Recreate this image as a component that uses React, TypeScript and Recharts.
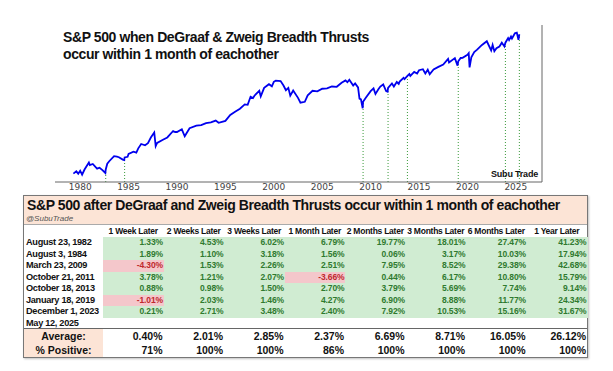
import React from "react";
import { LineChart, Line, XAxis, YAxis, ReferenceLine } from "recharts";

// S&P 500 closes (approx), decimal year
const spxDates = [
  1979.3, 1979.6, 1979.8, 1980.0, 1980.2, 1980.45, 1980.9, 1981.0, 1981.3, 1981.6, 1981.75,
  1982.0, 1982.3, 1982.6, 1982.64, 1982.8, 1983.0, 1983.5, 1983.8, 1984.0, 1984.4, 1984.55,
  1984.59, 1984.9, 1985.0, 1985.5, 1985.8, 1986.0, 1986.3, 1986.7, 1987.0, 1987.3, 1987.65,
  1987.8, 1987.95, 1988.5, 1989.0, 1989.6, 1989.8, 1990.0, 1990.5, 1990.8, 1991.0, 1991.3,
  1992.0, 1992.5, 1993.0, 1993.5, 1994.0, 1994.3, 1995.0, 1995.5, 1996.0, 1996.5, 1997.0,
  1997.3, 1997.6, 1997.85, 1998.0, 1998.5, 1998.65, 1999.0, 1999.5, 1999.8, 2000.0, 2000.2,
  2000.7, 2001.0, 2001.25, 2001.5, 2001.7, 2002.0, 2002.5, 2002.75, 2003.2, 2003.5, 2004.0,
  2004.5, 2005.0, 2005.5, 2006.0, 2006.5, 2007.0, 2007.4, 2007.6, 2007.8, 2008.2, 2008.4,
  2008.7, 2008.85, 2009.0, 2009.18, 2009.22, 2009.5, 2010.0, 2010.3, 2010.5, 2010.8, 2011.0,
  2011.3, 2011.6, 2011.75, 2011.8, 2012.2, 2012.4, 2012.7, 2012.9, 2013.0, 2013.4, 2013.5,
  2013.8, 2014.0, 2014.1, 2014.5, 2014.8, 2015.0, 2015.4, 2015.65, 2015.9, 2016.1, 2016.5,
  2017.0, 2017.5, 2018.0, 2018.1, 2018.7, 2018.98, 2019.05, 2019.3, 2019.5, 2020.0, 2020.13,
  2020.22, 2020.4, 2020.7, 2021.0, 2021.5, 2022.0, 2022.45, 2022.6, 2022.78, 2023.0, 2023.3,
  2023.55, 2023.82, 2023.92, 2024.2, 2024.3, 2024.5, 2024.6, 2024.9, 2025.1, 2025.27, 2025.36,
];
const spxCloses = [
  101, 108, 101, 110, 98, 114, 140, 130, 134, 122, 117,
  120, 112, 103, 114, 135, 145, 168, 166, 163, 152, 150,
  162, 165, 180, 192, 186, 211, 240, 231, 246, 290, 335,
  225, 247, 270, 290, 350, 340, 340, 368, 300, 330, 380,
  410, 415, 440, 450, 475, 445, 470, 560, 615, 670, 760,
  750, 950, 915, 980, 1130, 960, 1230, 1370, 1290, 1470, 1520,
  1500, 1320, 1150, 1230, 980, 1140, 920, 800, 820, 990, 1130,
  1110, 1200, 1210, 1280, 1270, 1430, 1530, 1450, 1560, 1320, 1400,
  1250, 900, 880, 680, 820, 920, 1120, 1210, 1030, 1180, 1280,
  1360, 1120, 1100, 1230, 1400, 1280, 1460, 1380, 1480, 1650, 1590,
  1745, 1840, 1740, 1960, 1870, 2060, 2120, 1870, 2090, 1830, 2100,
  2270, 2430, 2870, 2580, 2930, 2350, 2670, 2940, 2950, 3230, 3380,
  2240, 3000, 3500, 3750, 4300, 4790, 3660, 4300, 3580, 3900, 4100,
  4590, 4120, 4590, 5250, 4970, 5500, 5180, 6030, 6140, 4980, 5840,
];

const yearTicks = [1980, 1985, 1990, 1995, 2000, 2005, 2010, 2015, 2020, 2025];

// thrust events
const eventLabels = [
  "August 23, 1982",
  "August 3, 1984",
  "March 23, 2009",
  "October 21, 2011",
  "October 18, 2013",
  "January 18, 2019",
  "December 1, 2023",
  "May 12, 2025",
];
const eventYears = [1982.64, 1984.59, 2009.22, 2011.8, 2013.8, 2019.05, 2023.92, 2025.36];
const eventLevels = [114, 162, 820, 1230, 1745, 2670, 4590, 5840];

const horizons = [
  "1 Week Later",
  "2 Weeks Later",
  "3 Weeks Later",
  "1 Month Later",
  "2 Months Later",
  "3 Months Later",
  "6 Months Later",
  "1 Year Later",
];
const returns = [
  [1.33, 4.53, 6.02, 6.79, 19.77, 18.01, 27.47, 41.23],
  [1.89, 1.1, 3.18, 1.56, 0.06, 3.17, 10.03, 17.94],
  [-4.3, 1.53, 2.26, 2.51, 7.95, 8.52, 29.38, 42.68],
  [3.78, 1.21, 2.07, -3.66, 0.44, 6.17, 10.8, 15.79],
  [0.88, 0.98, 1.5, 2.7, 3.79, 5.69, 7.74, 9.14],
  [-1.01, 2.03, 1.46, 4.27, 6.9, 8.88, 11.77, 24.34],
  [0.21, 2.71, 3.48, 2.4, 7.92, 10.53, 15.16, 31.67],
];
const averages = [0.4, 2.01, 2.85, 2.37, 6.69, 8.71, 16.05, 26.12];
const pctPositive = [71, 100, 100, 86, 100, 100, 100, 100];

const Y_MIN = 79.2;
const Y_MAX = 7690;

const data = spxDates.map((t, i) => ({ t, spx: spxCloses[i] }));

const ARIAL = "'Liberation Sans', Arial, sans-serif";
const PEACH = "#fce4d6";
const GREEN_BG = "#d0ecd2";
const GREEN_TX = "#2f7a2f";
const RED_BG = "#f4c7cb";
const RED_TX = "#c0282d";

const COL_X0 = 103;
const COL_W = 60.5;
const ROW_Y0 = 237;
const ROW_H = 11.5;

function BreadthTable() {
  const cells: React.ReactNode[] = [];
  returns.forEach((row, r) => {
    row.forEach((v, c) => {
      const neg = v < 0;
      cells.push(
        <div
          key={"c" + r + "-" + c}
          style={{
            position: "absolute",
            left: COL_X0 + c * COL_W,
            top: ROW_Y0 + r * ROW_H,
            width: COL_W + 0.5,
            height: ROW_H,
            lineHeight: ROW_H + "px",
            background: neg ? RED_BG : GREEN_BG,
            color: neg ? RED_TX : GREEN_TX,
            textAlign: "right",
            paddingRight: 1,
            boxSizing: "border-box",
            fontSize: 8.5,
            fontWeight: 700,
            letterSpacing: -0.1,
          }}
        >
          {v.toFixed(2) + "%"}
        </div>
      );
    });
  });
  horizons.forEach((h, c) => {
    cells.push(
      <div
        key={"h" + c}
        style={{
          position: "absolute",
          left: COL_X0 + c * COL_W,
          top: 224,
          width: COL_W,
          height: 13,
          lineHeight: "14px",
          textAlign: "center",
          fontSize: 8.5,
          fontWeight: 700,
          letterSpacing: -0.25,
          whiteSpace: "nowrap",
        }}
      >
        {h}
      </div>
    );
  });
  eventLabels.forEach((lab, r) => {
    cells.push(
      <div
        key={"l" + r}
        style={{
          position: "absolute",
          left: 26,
          top: ROW_Y0 + r * ROW_H,
          height: ROW_H,
          lineHeight: ROW_H + "px",
          fontSize: 9.2,
          fontWeight: 700,
          letterSpacing: -0.3,
          whiteSpace: "nowrap",
        }}
      >
        {lab}
      </div>
    );
  });
  const summary = [
    { label: "Average:", vals: averages.map((v) => v.toFixed(2) + "%"), top: 329 },
    { label: "% Positive:", vals: pctPositive.map((v) => v + "%"), top: 343 },
  ];
  summary.forEach((s, r) => {
    cells.push(
      <div
        key={"sl" + r}
        style={{
          position: "absolute",
          left: 24,
          top: s.top,
          width: 79,
          height: 14,
          lineHeight: "14px",
          background: PEACH,
          textAlign: "center",
          fontSize: 10.5,
          fontWeight: 700,
        }}
      >
        {s.label}
      </div>
    );
    s.vals.forEach((v, c) => {
      cells.push(
        <div
          key={"sv" + r + "-" + c}
          style={{
            position: "absolute",
            left: COL_X0 + c * COL_W,
            top: s.top,
            width: COL_W,
            height: 14,
            lineHeight: "14px",
            textAlign: "right",
            paddingRight: 1,
            boxSizing: "border-box",
            fontSize: 10.5,
            fontWeight: 700,
          }}
        >
          {v}
        </div>
      );
    });
  });

  return (
    <div style={{ position: "absolute", left: 0, top: 0, fontFamily: ARIAL, color: "#111" }}>
      <div
        style={{
          position: "absolute",
          left: 23,
          top: 195,
          width: 565,
          height: 163,
          border: "1px solid #777",
          boxSizing: "border-box",
          boxShadow: "1px 1px 2px rgba(0,0,0,0.25)",
        }}
      />
      <div
        style={{
          position: "absolute",
          left: 24,
          top: 196,
          width: 563,
          height: 28,
          background: PEACH,
          borderBottom: "1px solid #aaa",
        }}
      />
      <div
        style={{
          position: "absolute",
          left: 27,
          top: 197,
          fontSize: 14,
          fontWeight: 700,
          letterSpacing: -0.4,
          whiteSpace: "nowrap",
        }}
      >
        S&P 500 after DeGraaf and Zweig Breadth Thrusts occur within 1 month of eachother
      </div>
      <div
        style={{
          position: "absolute",
          left: 26,
          top: 214,
          fontSize: 8,
          fontStyle: "italic",
          color: "#555",
        }}
      >
        @SubuTrade
      </div>
      <div style={{ position: "absolute", left: 24, top: 328, width: 563, height: 1, background: "#666" }} />
      {cells}
    </div>
  );
}

export default function App() {
  return (
    <div
      style={{
        position: "absolute",
        left: 0,
        top: 0,
        width: 613,
        height: 371,
        background: "#fff",
        overflow: "hidden",
      }}
    >
      <LineChart
        width={613}
        height={200}
        data={data}
        margin={{ top: 25, right: 71, left: 55, bottom: 0 }}
      >
        <XAxis
          dataKey="t"
          type="number"
          domain={[1977.4, 2027.7]}
          ticks={yearTicks}
          allowDataOverflow
          height={18}
          tickLine={false}
          tickSize={2}
          tickMargin={0}
          stroke="#666"
          tick={{ fontSize: 9, fill: "#444", fontFamily: "'DejaVu Sans', sans-serif" }}
        />
        <YAxis hide scale="log" domain={[Y_MIN, Y_MAX]} allowDataOverflow />
        <ReferenceLine x={2027.7} stroke="#666" />
        {eventYears.map((x, i) => (
          <ReferenceLine
            key={x}
            segment={[
              { x, y: Y_MIN },
              { x, y: eventLevels[i] },
            ]}
            stroke="#3a9a3a"
            strokeWidth={1}
            strokeDasharray="1 2"
          />
        ))}
        <Line
          type="linear"
          dataKey="spx"
          stroke="#0000ee"
          strokeWidth={1.8}
          dot={false}
          isAnimationActive={false}
        />
      </LineChart>
      <div
        style={{
          position: "absolute",
          left: 63,
          top: 29,
          fontFamily: ARIAL,
          fontSize: 14,
          fontWeight: 700,
          letterSpacing: -0.4,
          lineHeight: "17px",
          color: "#111",
        }}
      >
        S&P 500 when DeGraaf & Zweig Breadth Thrusts
        <br />
        occur within 1 month of eachother
      </div>
      <div
        style={{
          position: "absolute",
          right: 613 - 538,
          top: 169,
          fontFamily: ARIAL,
          fontSize: 9,
          fontWeight: 700,
          letterSpacing: -0.2,
          color: "#111",
        }}
      >
        Subu Trade
      </div>
      <BreadthTable />
    </div>
  );
}
